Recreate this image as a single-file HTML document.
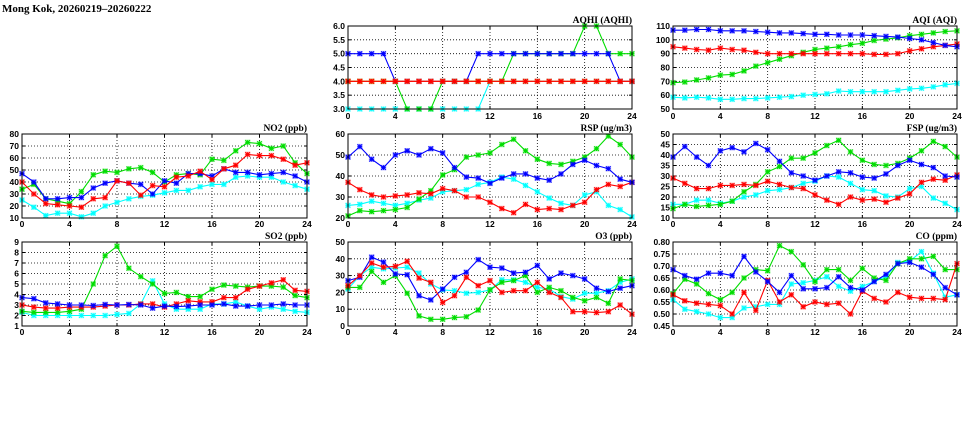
<!DOCTYPE html>
<html><head><meta charset="utf-8"><style>
html,body{margin:0;padding:0;background:#fff;width:975px;height:447px;overflow:hidden}
svg{display:block}
.t{font-family:"Liberation Sans",sans-serif;font-weight:bold;font-size:8.5px;fill:#000}
.h{font-family:"Liberation Serif",serif;font-weight:bold;font-size:9.5px;fill:#000}
</style></head><body>
<svg id="s" width="975" height="447" viewBox="0 0 975 447" xmlns="http://www.w3.org/2000/svg">
<rect width="975" height="447" fill="#fff"/>
<text x="2" y="12" class="h" style="font-size:11px">Mong Kok, 20260219–20260222</text>
<g id="plots"></g>
<text x="307" y="131" class="h" text-anchor="end">NO2 (ppb)</text>
<text x="632" y="23" class="h" text-anchor="end">AQHI (AQHI)</text>
<text x="957" y="23" class="h" text-anchor="end">AQI (AQI)</text>
<text x="632" y="131" class="h" text-anchor="end">RSP (ug/m3)</text>
<text x="957" y="131" class="h" text-anchor="end">FSP (ug/m3)</text>
<text x="307" y="239" class="h" text-anchor="end">SO2 (ppb)</text>
<text x="632" y="239" class="h" text-anchor="end">O3 (ppb)</text>
<text x="957" y="239" class="h" text-anchor="end">CO (ppm)</text>
<g class="t" text-anchor="middle">
<text x="22" y="227">0</text><text x="69.5" y="227">4</text><text x="117" y="227">8</text><text x="164.5" y="227">12</text><text x="212" y="227">16</text><text x="259.5" y="227">20</text><text x="307" y="227">24</text>
<text x="348" y="227">0</text><text x="395.3" y="227">4</text><text x="442.7" y="227">8</text><text x="490" y="227">12</text><text x="537.3" y="227">16</text><text x="584.7" y="227">20</text><text x="632" y="227">24</text>
<text x="673" y="227">0</text><text x="720.3" y="227">4</text><text x="767.7" y="227">8</text><text x="815" y="227">12</text><text x="862.3" y="227">16</text><text x="909.7" y="227">20</text><text x="957" y="227">24</text>
<text x="348" y="119">0</text><text x="395.3" y="119">4</text><text x="442.7" y="119">8</text><text x="490" y="119">12</text><text x="537.3" y="119">16</text><text x="584.7" y="119">20</text><text x="632" y="119">24</text>
<text x="673" y="119">0</text><text x="720.3" y="119">4</text><text x="767.7" y="119">8</text><text x="815" y="119">12</text><text x="862.3" y="119">16</text><text x="909.7" y="119">20</text><text x="957" y="119">24</text>
<text x="22" y="335">0</text><text x="69.5" y="335">4</text><text x="117" y="335">8</text><text x="164.5" y="335">12</text><text x="212" y="335">16</text><text x="259.5" y="335">20</text><text x="307" y="335">24</text>
<text x="348" y="335">0</text><text x="395.3" y="335">4</text><text x="442.7" y="335">8</text><text x="490" y="335">12</text><text x="537.3" y="335">16</text><text x="584.7" y="335">20</text><text x="632" y="335">24</text>
<text x="673" y="335">0</text><text x="720.3" y="335">4</text><text x="767.7" y="335">8</text><text x="815" y="335">12</text><text x="862.3" y="335">16</text><text x="909.7" y="335">20</text><text x="957" y="335">24</text>
</g>
<g class="t" text-anchor="end">
<text x="19" y="221">10</text><text x="19" y="209">20</text><text x="19" y="197">30</text><text x="19" y="185">40</text><text x="19" y="173">50</text><text x="19" y="161">60</text><text x="19" y="149">70</text><text x="19" y="137">80</text>
<text x="345" y="112">3.0</text><text x="345" y="98.2">3.5</text><text x="345" y="84.3">4.0</text><text x="345" y="70.5">4.5</text><text x="345" y="56.7">5.0</text><text x="345" y="42.8">5.5</text><text x="345" y="29">6.0</text>
<text x="670" y="112">50</text><text x="670" y="98.2">60</text><text x="670" y="84.3">70</text><text x="670" y="70.5">80</text><text x="670" y="56.7">90</text><text x="670" y="42.8">100</text><text x="670" y="29">110</text>
<text x="345" y="221">20</text><text x="345" y="200">30</text><text x="345" y="179">40</text><text x="345" y="158">50</text><text x="345" y="137">60</text>
<text x="670" y="221">10</text><text x="670" y="210.5">15</text><text x="670" y="200">20</text><text x="670" y="189.5">25</text><text x="670" y="179">30</text><text x="670" y="168.5">35</text><text x="670" y="158">40</text><text x="670" y="147.5">45</text><text x="670" y="137">50</text>
<text x="19" y="329">1</text><text x="19" y="318.5">2</text><text x="19" y="308">3</text><text x="19" y="297.5">4</text><text x="19" y="287">5</text><text x="19" y="276.5">6</text><text x="19" y="266">7</text><text x="19" y="255.5">8</text><text x="19" y="245">9</text>
<text x="345" y="329">0</text><text x="345" y="312.2">10</text><text x="345" y="295.4">20</text><text x="345" y="278.6">30</text><text x="345" y="261.8">40</text><text x="345" y="245">50</text>
<text x="670" y="329">0.45</text><text x="670" y="317">0.50</text><text x="670" y="305">0.55</text><text x="670" y="293">0.60</text><text x="670" y="281">0.65</text><text x="670" y="269">0.70</text><text x="670" y="257">0.75</text><text x="670" y="245">0.80</text>
</g>
</svg>
<script>
var NS="http://www.w3.org/2000/svg",G=document.getElementById("plots");
function el(n,a){var e=document.createElementNS(NS,n);for(var k in a)e.setAttribute(k,a[k]);G.appendChild(e);return e;}
var C={b:"#0000ff",r:"#ff0000",g:"#00dd00",c:"#00ffff",o:"#ff8800"};
var P=[
{x0:22,x1:307,y0:134,y1:218,lo:10,hi:80,st:10,d:{
c:[25,19,12,14,14,11,14,20,23,26,28,29,31,33,33,36,38,38,44,45,44,44,40,37,34],
g:[34,38,26,24,22,32,46,49,48,51,52,48,40,46,47,46,59,58,66,73,72,68,70,56,47],
b:[47,40,26,26,27,27,35,39,41,39,38,30,41,39,47,47,45,51,48,48,46,47,48,45,40],
r:[40,30,22,21,20,19,26,27,41,39,29,37,36,44,45,49,42,51,54,63,62,62,59,54,56]}},
{x0:348,x1:632,y0:26,y1:109,lo:3,hi:6,st:0.5,d:{
c:[3,3,3,3,3,3,3,3,3,3,3,3,4,4,4,4,4,4,4,4,4,4,4,4,4],
g:[4,4,4,4,4,3,3,3,4,4,4,4,4,4,5,5,5,5,5,5,6,6,5,5,5],
b:[5,5,5,5,4,4,4,4,4,4,4,5,5,5,5,5,5,5,5,5,5,5,5,4,4],
o:[4,4,4,4,4,4,4,4,4,4,4,4,4,4,4,4,4,4,4,4,4,4,4,4,4],
r:[4,4,4,4,4,4,4,4,4,4,4,4,4,4,4,4,4,4,4,4,4,4,4,4,4]}},
{x0:673,x1:957,y0:26,y1:109,lo:50,hi:110,st:10,d:{
c:[58.5,58,58.5,58,57,57,57.5,57.5,58,58.5,59,60,60.5,61,63,62.5,62.5,62.5,62.5,63.5,64.5,65,66,67.5,68.5],
g:[69,69.5,71,72.5,74.5,75,77.5,81,83.5,86,88.5,91,93,94,95,96.5,97.5,99.5,100.5,101.5,103,104,105,106,106.5],
r:[95,94,93,92.5,94,93,92.5,91,90,90,90,90,90,90,90,90,90,89.5,89.5,90,92,93.5,95,96,97],
b:[107,107,107.5,107.5,106.5,106.5,106.5,106,105.5,105,105,104.5,104,104,103.5,103.5,103.5,103,102.5,102,101,100,98,96,95]}},
{x0:348,x1:632,y0:134,y1:218,lo:20,hi:60,st:10,d:{
c:[26,26.5,28,27,26,27,28.5,29.5,32.5,33,33.5,36,37,39.5,38.5,35.5,32.5,29.5,27,26,31,32.5,26,24,20.5],
g:[21,23.5,23,23.5,24,25,29,33,40.5,43,49,50,51,55,57.5,52,48,46,45.5,47,49,53,59,55,49],
r:[37,33.5,31,30,30.5,31,32,31.5,34,33,30,30,27.5,24.5,22.5,26.5,24,24.5,24,26,27.5,33.5,36,35,37],
b:[49,54,48,44,50,52,50,53,51,44,39.5,39,36.5,39,41,41,39,38,41,45.5,47.5,45,43.5,38.5,37]}},
{x0:673,x1:957,y0:134,y1:218,lo:10,hi:50,st:5,d:{
c:[16.5,16.5,18.5,18.5,17,18,20,21,23,23.5,24.5,26.5,27.5,30,29.5,26.5,23.5,23,20.5,20,24,25,19.5,17,14],
g:[14.5,16.5,15.5,16,16.5,18,22.5,26,32,34.5,38.5,38.5,41,44.5,47,41.5,37.5,35.5,35,36,38.5,42,46.5,44,39],
r:[29,26.5,24,24,25.5,25.5,26,25.5,27.5,26,24.5,24,21,18.5,16.5,20,18.5,19,17.5,19.5,21.5,27,28.5,28,30.5],
b:[39,44,39,35,42,43.5,41.5,45.5,42.5,37,31.5,30,28,30,32,31.5,29.5,29,31,35,37.5,35.5,34,30,29.5]}},
{x0:22,x1:307,y0:242,y1:326,lo:1,hi:9,st:1,d:{
c:[2.3,2,2,2,2,2,2,2,2.1,2.2,3.1,5.3,3.1,2.6,2.6,2.6,3.1,3.1,3.3,2.9,2.6,2.8,2.6,2.4,2.3],
g:[2.4,2.3,2.3,2.3,2.4,2.6,5,7.7,8.6,6.5,5.7,5,4.1,4.2,3.8,3.8,4.5,4.9,4.8,4.7,4.8,4.8,4.7,3.9,3.7],
r:[3,2.8,2.7,2.7,2.8,2.8,2.8,2.9,3,3,3.1,3.1,2.8,3.1,3.4,3.3,3.3,3.7,3.7,4.5,4.8,5.1,5.4,4.4,4.3],
b:[3.7,3.6,3.2,3.1,3,3,2.95,3.05,3,3.05,3,2.7,2.9,2.85,2.9,3,3,3.1,2.9,2.9,3,3,3.1,3,3]}},
{x0:348,x1:632,y0:242,y1:326,lo:0,hi:50,st:10,d:{
c:[22,30,35,34,34.5,35,31.5,25,21.5,21,19.5,20,21.5,27.5,27.5,26,23,22,17.5,16,19.5,19.5,21,26,28],
g:[23,23,32.5,26,30,19.5,6,4,4,5,5.5,9.5,21.5,26,27,30,20,23,21,17,15,17,13.5,28,27],
b:[27,29,41,38,31,30.5,18,15.5,22,29,32,39.5,35,34.5,31.5,32,36,28,31.5,30,28,22.5,20.5,22.5,24],
r:[24,30,37.5,35,35.5,38.5,28.5,26,14,18,29,24,27,20,21,21,26,20,17,8.5,8.5,8,8.5,12.5,7]}},
{x0:673,x1:957,y0:242,y1:326,lo:0.45,hi:0.8,st:0.05,d:{
c:[.56,.52,.51,.50,.485,.485,.525,.53,.54,.54,.625,.63,.64,.655,.615,.595,.615,.635,.655,.715,.72,.76,.67,.57,.58],
g:[.585,.645,.625,.585,.56,.59,.65,.685,.68,.785,.76,.705,.635,.685,.685,.64,.69,.65,.64,.71,.73,.73,.74,.685,.685],
r:[.58,.555,.545,.54,.535,.50,.59,.515,.64,.55,.58,.53,.55,.54,.545,.50,.595,.565,.55,.59,.57,.565,.565,.56,.71],
b:[.685,.66,.645,.67,.67,.66,.74,.675,.635,.59,.66,.605,.605,.61,.655,.61,.60,.635,.665,.71,.715,.695,.665,.61,.58]}}
];
P.forEach(function(p){
 var w=p.x1-p.x0,h=p.y1-p.y0;
 function X(i){return p.x0+i*w/24;}
 function Y(v){return p.y1-(v-p.lo)/(p.hi-p.lo)*h;}
 for(var v=p.lo+p.st;v<p.hi-1e-6;v+=p.st){var y=Y(v);el("line",{x1:p.x0,x2:p.x1,y1:y,y2:y,stroke:"#000","stroke-width":0.8,"stroke-dasharray":"1,2"});}
 for(var i=4;i<24;i+=4){el("line",{x1:X(i),x2:X(i),y1:p.y0,y2:p.y1,stroke:"#000","stroke-width":0.8,"stroke-dasharray":"1,2"});}
 for(var i=0;i<=24;i+=4){el("line",{x1:X(i),x2:X(i),y1:p.y1,y2:p.y1-3,stroke:"#000","stroke-width":1});el("line",{x1:X(i),x2:X(i),y1:p.y0,y2:p.y0+3,stroke:"#000","stroke-width":1});}
 for(var v=p.lo;v<=p.hi+1e-6;v+=p.st){var y=Y(v);el("line",{x1:p.x0,x2:p.x0+3,y1:y,y2:y,stroke:"#000"});el("line",{x1:p.x1,x2:p.x1-3,y1:y,y2:y,stroke:"#000"});}
 for(var k in p.d){
  var a=p.d[k],pts=a.map(function(v,i){return X(i).toFixed(1)+","+Y(v).toFixed(1);}).join(" ");
  el("polyline",{points:pts,fill:"none",stroke:C[k],"stroke-width":1.1});
  a.forEach(function(v,i){var x=X(i),y=Y(v),s=2.3;
   el("rect",{x:x-2.8,y:y-2.8,width:5.6,height:5.6,fill:C[k],"fill-opacity":0.3});
   el("path",{d:"M"+(x-s)+" "+(y-s)+"L"+(x+s)+" "+(y+s)+"M"+(x-s)+" "+(y+s)+"L"+(x+s)+" "+(y-s)+"M"+(x-s)+" "+y+"L"+(x+s)+" "+y+"M"+x+" "+(y-s)+"L"+x+" "+(y+s),stroke:C[k],"stroke-width":1,fill:"none"});
  });
 }
 el("rect",{x:p.x0,y:p.y0,width:w,height:h,fill:"none",stroke:"#000","stroke-width":1});
});
</script>
</body></html>
